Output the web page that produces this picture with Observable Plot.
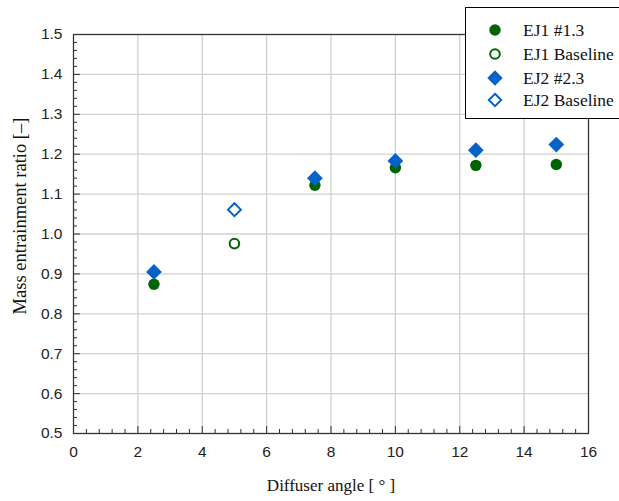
<!DOCTYPE html>
<html><head><meta charset="utf-8">
<script src="https://cdn.jsdelivr.net/npm/d3@7"></script>
<script src="https://cdn.jsdelivr.net/npm/@observablehq/plot@0.6"></script>
<style>
body{margin:0;background:#fff;}
#wrap{position:relative;width:619px;height:501px;overflow:hidden;}
#legend{position:absolute;left:465px;top:7px;width:170px;height:112px;background:#fff;border:1.5px solid #000;box-sizing:border-box;font-family:"Liberation Serif","Times New Roman",serif;font-size:17.5px;color:#111;}
.row{position:absolute;left:0;height:22px;display:flex;align-items:center;}
.row svg{margin-left:21px;margin-right:20px;}
</style></head>
<body><div id="wrap"><div id="chart"></div><div id="legend"></div></div>
<script>
const angles = [2.5, 7.5, 10, 12.5, 15];
const ej1Values = [0.874, 1.122, 1.166, 1.172, 1.174];
const ej2Values = [0.905, 1.140, 1.183, 1.210, 1.224];
const baselineAngle = [5];
const ej1Baseline = [0.976];
const ej2Baseline = [1.061];
const xTicks = [0, 2, 4, 6, 8, 10, 12, 14, 16];
const yTicks = [0.5, 0.6, 0.7, 0.8, 0.9, 1.0, 1.1, 1.2, 1.3, 1.4, 1.5];
const seriesNames = ["EJ1 #1.3", "EJ1 Baseline", "EJ2 #2.3", "EJ2 Baseline"];

const green = "#006400", blue = "#0563c8";
const ej1 = angles.map((a,i)=>({x:a,y:ej1Values[i]}));
const ej2 = angles.map((a,i)=>({x:a,y:ej2Values[i]}));
const b1 = baselineAngle.map((a,i)=>({x:a,y:ej1Baseline[i]}));
const b2 = baselineAngle.map((a,i)=>({x:a,y:ej2Baseline[i]}));
const xMinor = d3.range(0, 16.001, 0.4).map(v=>+v.toFixed(2)).filter(v=>!xTicks.includes(v));
const yMinor = d3.range(0.5, 1.5001, 0.02).map(v=>+v.toFixed(2)).filter(v=>!yTicks.some(t=>Math.abs(t-v)<1e-6));
const fh = 501-34-68, fw = 619-73-31;

const chart = Plot.plot({
  width:619, height:501, marginLeft:73, marginRight:31, marginTop:34, marginBottom:68,
  x:{domain:[0,16]}, y:{domain:[0.5,1.5]},
  style:{fontFamily:"'Liberation Sans', Arial, sans-serif", fontSize:"15.5px", color:"#222", background:"#fff"},
  marks:[
    Plot.ruleX(xTicks, {x:d=>d, stroke:"#d0d0d0", strokeWidth:1.3}),
    Plot.ruleY(yTicks, {y:d=>d, stroke:"#d0d0d0", strokeWidth:1.3}),
    Plot.ruleX(xTicks, {x:d=>d, insetTop:fh-7, stroke:"#333"}),
    Plot.ruleX(xMinor, {x:d=>d, insetTop:fh-4, stroke:"#333"}),
    Plot.ruleY(yTicks, {y:d=>d, insetRight:fw-7, stroke:"#333"}),
    Plot.ruleY(yMinor, {y:d=>d, insetRight:fw-4, stroke:"#333"}),
    Plot.frame({stroke:"#333", strokeWidth:1.2}),
    Plot.dot(ej1, {x:"x", y:"y", r:5.7, fill:green, symbol:"circle"}),
    Plot.dot(b1, {x:"x", y:"y", r:4.8, stroke:green, strokeWidth:2, fill:"none", symbol:"circle"}),
    Plot.dot(ej2, {x:"x", y:"y", r:7.1, fill:blue, symbol:"diamond2"}),
    Plot.dot(b2, {x:"x", y:"y", r:5.8, stroke:blue, strokeWidth:2, fill:"none", symbol:"diamond2"}),
    Plot.axisX({ticks:xTicks, tickSize:0, tickPadding:12, label:null, tickFormat:d=>String(d)}),
    Plot.axisY({ticks:yTicks, tickSize:0, tickPadding:11, label:null, tickFormat:d=>d.toFixed(1)}),
    Plot.text(["Diffuser angle [ \u00b0 ]"], {frameAnchor:"bottom", dy:57, fontFamily:"'Liberation Serif', 'Times New Roman', serif", fontSize:17, fill:"#111"}),
    Plot.text(["Mass entrainment ratio [\u2013]"], {frameAnchor:"left", textAnchor:"middle", dx:-53, dy:-18, rotate:-90, fontFamily:"'Liberation Serif', 'Times New Roman', serif", fontSize:18.5, fill:"#111"})
  ]
});
document.getElementById("chart").appendChild(chart);

const symbols = [
  `<circle cx="8" cy="8" r="5.7" fill="${green}"/>`,
  `<circle cx="8" cy="8" r="4.8" fill="none" stroke="${green}" stroke-width="2"/>`,
  `<path d="M8,0.3L15.7,8L8,15.7L0.3,8Z" fill="${blue}"/>`,
  `<path d="M8,1.8L14.2,8L8,14.2L1.8,8Z" fill="none" stroke="${blue}" stroke-width="2"/>`
];
const rowTops = [16, 40, 64, 86];
const leg = document.getElementById("legend");
seriesNames.forEach((n,i)=>{
  const r = document.createElement("div");
  r.className="row"; r.style.top=(rowTops[i]-5)+"px";
  r.innerHTML = `<svg width="16" height="16">${symbols[i]}</svg><span>${n}</span>`;
  leg.appendChild(r);
});
</script></body></html>
